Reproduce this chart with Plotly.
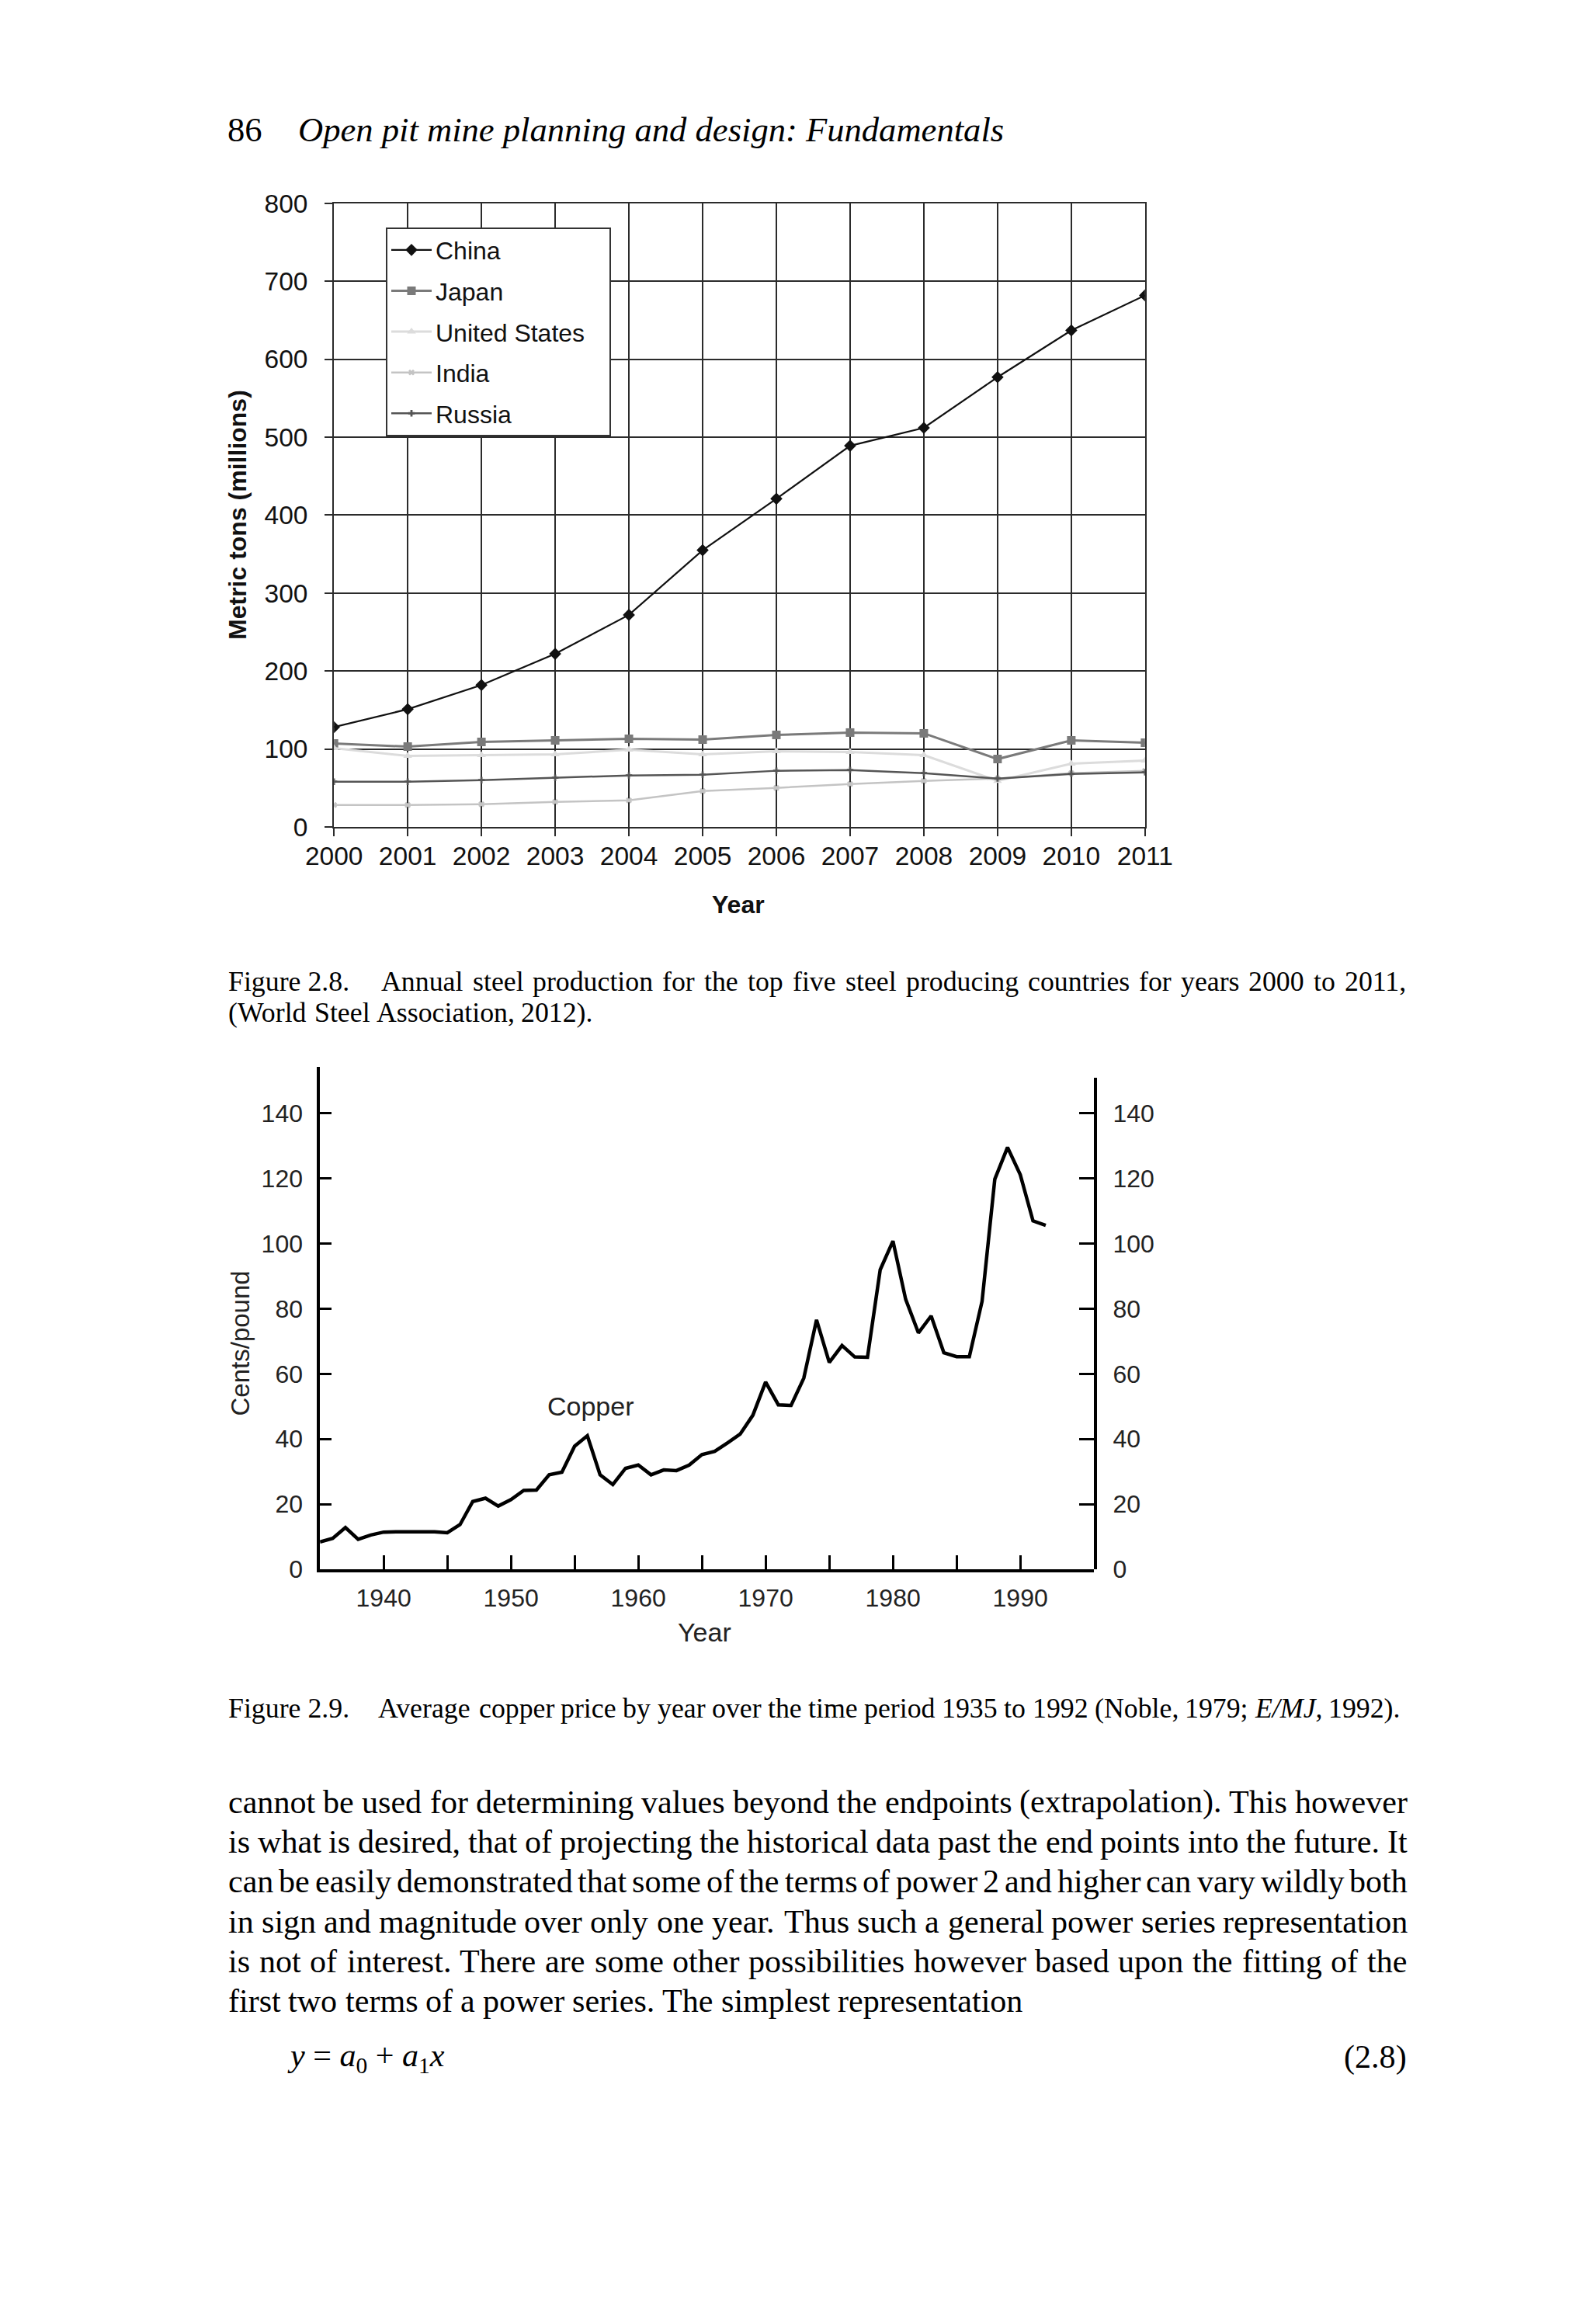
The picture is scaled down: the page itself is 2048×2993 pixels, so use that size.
import plotly.graph_objects as go

W, H = 2048, 2993
SANS = "Liberation Sans, Arial, sans-serif"
SERIF = "Liberation Serif, Times New Roman, serif"

# ---------------- data: Figure 2.8 (steel production, Mt) ----------------
years = list(range(2000, 2012))
china = [128, 151, 182, 222, 272, 355, 421, 489, 512, 577, 637, 682]
japan = [107, 103, 109, 111, 113, 112, 118, 121, 120, 87, 111, 108]
united_states = [101, 91, 92, 93, 99, 93, 97, 96, 92, 59, 81, 85]
india = [28, 28, 29, 32, 34, 46, 50, 55, 59, 62, 69, 72]
russia = [58, 58, 60, 63, 66, 67, 72, 73, 69, 62, 68, 70]
steel_y_ticks = list(range(0, 801, 100))

# ---------------- data: Figure 2.9 (copper price, cents/lb) ----------------
copper_years = list(range(1935, 1993))
copper_price = [8.4, 9.5, 12.8, 9.2, 10.5, 11.4, 11.5, 11.5, 11.5, 11.5,
                11.2, 13.7, 20.8, 21.8, 19.4, 21.4, 24.2, 24.3, 29.0, 29.8,
                37.8, 41.0, 29.0, 26.0, 31.0, 32.0, 29.0, 30.5, 30.3, 32.0,
                35.2, 36.2, 38.8, 41.5, 47.3, 57.5, 50.5, 50.3, 58.7, 76.6,
                63.5, 68.7, 65.2, 65.1, 92.0, 100.8, 82.9, 72.6, 77.8, 66.5,
                65.3, 65.3, 82.3, 119.8, 129.6, 121.2, 107.0, 105.6]
copper_x_ticks = list(range(1940, 1991, 10))
copper_x_minor = list(range(1945, 1990, 10))
copper_y_ticks = list(range(0, 141, 20))

# ---------------- page text ----------------
header_num = "86"
header_title = "Open pit mine planning and design: Fundamentals"
cap1_label = "Figure 2.8."
cap1_line1 = "Annual steel production for the top five steel producing countries for years 2000 to 2011,"
cap1_line2 = "(World Steel Association, 2012)."
cap2_label = "Figure 2.9."
cap2_words = "Average copper price by year over the time period 1935 to 1992 (Noble, 1979; E/MJ, 1992)."
cap2_italic = {"E/MJ,"}
body_lines = [
    "cannot be used for determining values beyond the endpoints (extrapolation). This however",
    "is what is desired, that of projecting the historical data past the end points into the future. It",
    "can be easily demonstrated that some of the terms of power 2 and higher can vary wildly both",
    "in sign and magnitude over only one year. Thus such a general power series representation",
    "is not of interest. There are some other possibilities however based upon the fitting of the",
    "first two terms of a power series. The simplest representation",
]
equation = "<i>y</i> = <i>a</i><sub>0</sub> + <i>a</i><sub>1</sub><i>x</i>"
eq_number = "(2.8)"

LEFT, RIGHT = 266, 1841
K = 1.03  # rendered-width correction for the serif face


def fx(x):
    return x / W


def fy(y):
    return 1 - y / H


# Times-Roman advance widths (1/1000 em), used to lay out words on a line
TIMES = {" ": 250, "!": 333, "(": 333, ")": 333, ",": 250, "-": 333, ".": 250, "/": 278,
         ":": 278, ";": 278, "=": 564, "+": 564}
for c in "0123456789":
    TIMES[c] = 500
TIMES.update(dict(zip("ABCDEFGHIJKLMNOPQRSTUVWXYZ",
                      [722, 667, 667, 722, 611, 556, 722, 722, 333, 389, 722, 611, 889,
                       722, 722, 556, 722, 667, 556, 611, 722, 722, 944, 722, 722, 611])))
TIMES.update(dict(zip("abcdefghijklmnopqrstuvwxyz",
                      [444, 500, 444, 500, 444, 333, 500, 500, 278, 278, 500, 278, 778,
                       500, 500, 500, 500, 333, 389, 278, 500, 500, 722, 500, 500, 444])))


def tw(s, size):
    return K * sum(TIMES.get(c, 500) for c in s) / 1000.0 * size


annotations = []


def add_text(text, x, y, size, family=SERIF, xanchor="left", color="black", **kw):
    annotations.append(dict(text=text, x=fx(x), y=fy(y), xref="paper", yref="paper",
                            xanchor=xanchor, yanchor="middle", showarrow=False,
                            borderpad=0, borderwidth=0,
                            font=dict(family=family, size=size, color=color), **kw))


def add_line(line, x0, x1, y, size, justify, italic=()):
    words = line.split(" ")
    widths = [tw(w, size) for w in words]
    if justify and len(words) > 1:
        gap = (x1 - x0 - sum(widths)) / (len(words) - 1)
    else:
        gap = K * 0.25 * size
    x = x0
    for w, wd in zip(words, widths):
        add_text("<i>%s</i>" % w if w in italic else w, x, y, size)
        x += wd + gap


fig = go.Figure()

# ---------------- Figure 2.8 traces ----------------
NB = "\u00a0"
series = [
    ("China", china, "#111111", "diamond", 12, 2.2),
    ("Japan", japan, "#7a7a7a", "square", 11, 3),
    ("United States" + NB * 3, united_states, "#dcdcdc", "triangle-up", 10, 3),
    ("India", india, "#c4c4c4", "x", 7, 2.5),
    ("Russia", russia, "#555555", "cross", 7, 2.5),
]
for i, (name, vals, col, sym, msz, lw) in enumerate(series):
    fig.add_trace(go.Scatter(
        x=years, y=vals, name=name, mode="lines+markers", legendgroup=f"g{i}",
        line=dict(color=col, width=lw),
        marker=dict(symbol=sym, size=msz, color=col, line=dict(width=0)),
        xaxis="x", yaxis="y"))

# ---------------- Figure 2.9 traces ----------------
fig.add_trace(go.Scatter(x=copper_years, y=copper_price, mode="lines", showlegend=False,
                         line=dict(color="black", width=4.5), xaxis="x2", yaxis="y3"))
fig.add_trace(go.Scatter(x=[], y=[], mode="lines", showlegend=False, xaxis="x2", yaxis="y4"))

# ---------------- axes ----------------
grid_col = "#2b2b2b"
tick_font_top = dict(family=SANS, size=33.5, color="#111111")
tick_font_bot = dict(family=SANS, size=32, color="#222222")
fig.update_layout(
    xaxis=dict(domain=[fx(407.7), fx(1491)], range=[2000, 2011], tickvals=years,
               showgrid=True, gridcolor=grid_col, gridwidth=2, zeroline=False,
               showline=True, linecolor=grid_col, linewidth=2, mirror=True,
               ticks="outside", ticklen=10, tickwidth=2, tickcolor=grid_col,
               tickfont=tick_font_top, ticklabelstandoff=-3, anchor="y"),
    yaxis=dict(domain=[fy(1060), fy(247)], range=[0, 800], tickvals=steel_y_ticks,
               showgrid=True, gridcolor=grid_col, gridwidth=2, zeroline=False,
               showline=True, linecolor=grid_col, linewidth=2, mirror=True,
               ticks="outside", ticklen=10, tickwidth=2, tickcolor=grid_col,
               tickfont=tick_font_top, ticklabelstandoff=15, anchor="x"),
    xaxis2=dict(domain=[fx(389), fx(1423)], range=[1935, 1995.8], tickvals=copper_x_ticks,
                showgrid=False, zeroline=False,
                showline=True, linecolor="black", linewidth=3.5,
                ticks="inside", ticklen=18, tickwidth=3, tickcolor="black",
                minor=dict(tickvals=copper_x_minor, ticks="inside", ticklen=18, tickwidth=3,
                           tickcolor="black", showgrid=False),
                tickfont=tick_font_bot, ticklabelstandoff=6, anchor="y3"),
    yaxis3=dict(domain=[fy(2028), fy(1373)], range=[0, 154.3], tickvals=copper_y_ticks,
                showgrid=False, zeroline=False, showline=True, linecolor="black", linewidth=3.5,
                ticks="inside", ticklen=15, tickwidth=3, tickcolor="black",
                tickfont=tick_font_bot, ticklabelstandoff=12, anchor="x2"),
    yaxis4=dict(domain=[fy(2028), fy(1387)], range=[0, 151.0], tickvals=copper_y_ticks,
                side="right", showgrid=False, zeroline=False, showline=True,
                linecolor="black", linewidth=3.5,
                ticks="inside", ticklen=20, tickwidth=3, tickcolor="black",
                tickfont=tick_font_bot, ticklabelstandoff=14, anchor="x2"),
)

# ---------------- legend ----------------
fig.update_layout(
    showlegend=True,
    legend=dict(x=fx(477), y=fy(278), xanchor="left", yanchor="top",
                bgcolor="white", bordercolor="#333333", borderwidth=2,
                font=dict(family=SANS, size=32, color="#111111"),
                itemwidth=52, tracegroupgap=8, traceorder="grouped"),
)

# ---------------- axis titles & labels ----------------
add_text("<b>Metric tons (millions)</b>", 279, 653, 32, family=SANS, xanchor="center",
         textangle=-90, color="#111111")
add_text("<b>Year</b>", 948, 1161, 32, family=SANS, xanchor="center", color="#111111")
add_text("Cents/pound", 283, 1733, 33, family=SANS, xanchor="center", textangle=-90,
         color="#222222")
add_text("Year", 903, 2110, 34, family=SANS, xanchor="center", color="#222222")
annotations.append(dict(text="Copper", x=1956.3, y=50, xref="x2", yref="y3", showarrow=False,
                        xanchor="center", yanchor="middle",
                        font=dict(family=SANS, size=34, color="#222222")))

# ---------------- page text ----------------
HEAD = 44.6
add_text(header_num, 265, 151, HEAD)
add_text("<i>" + header_title + "</i>", 360, 151, HEAD)

CAP = 35.8
add_text(cap1_label, LEFT, 1262, CAP)
add_line(cap1_line1, 471, RIGHT, 1262, CAP, True)
add_line(cap1_line2, LEFT, RIGHT, 1302, CAP, False)

add_text(cap2_label, LEFT, 2209, CAP)
add_line(cap2_words, 467, RIGHT, 2209, CAP, False, italic=cap2_italic)

BODY = 42.1
body_y0, body_dy = 2331, 52
for i, line in enumerate(body_lines):
    add_line(line, LEFT, RIGHT, body_y0 + i * body_dy, BODY, i < len(body_lines) - 1)

add_text(equation, 345, 2664, BODY)
add_text(eq_number, RIGHT, 2664, BODY, xanchor="right")

fig.update_layout(
    width=W, height=H, autosize=False,
    margin=dict(l=0, r=0, t=0, b=0, pad=0),
    paper_bgcolor="white", plot_bgcolor="rgba(0,0,0,0)",
    font=dict(family=SANS, color="black"),
    annotations=annotations,
)

fig.write_html("out.html", config={"displayModeBar": False},
               post_script="document.body.style.margin='0';")
